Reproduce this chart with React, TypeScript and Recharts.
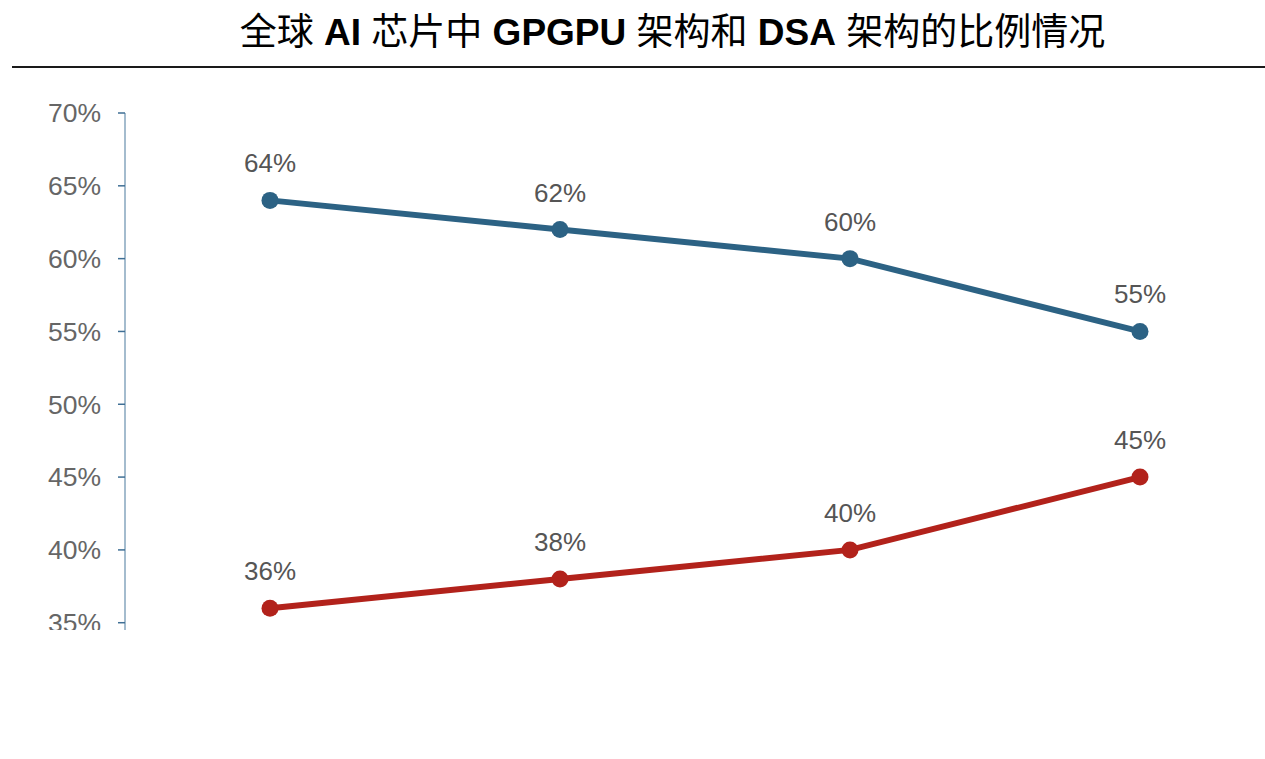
import { LineChart, Line, XAxis, YAxis, LabelList } from 'recharts';

const categories = ['1', '2', '3', '4'];
const gpgpuShare = [64, 62, 60, 55];
const dsaShare = [36, 38, 40, 45];
const yTicks = [35, 40, 45, 50, 55, 60, 65, 70];

const chartData = categories.map((c, i) => ({
  name: c,
  gpgpu: gpgpuShare[i],
  dsa: dsaShare[i],
}));

const FONT = '"Liberation Sans", Arial, Helvetica, sans-serif';
const CJK = '"Liberation Sans", "Noto Sans CJK SC", sans-serif';

export default function App() {
  return (
    <div style={{ position: 'absolute', left: 0, top: 0, width: 1265, height: 759, background: '#fff' }}>
      {/* title: Chinese regular, latin bold */}
      <div
        style={{
          position: 'absolute',
          left: 0,
          top: 10,
          width: 1345,
          textAlign: 'center',
          fontFamily: CJK,
          fontSize: 37,
          lineHeight: '46px',
          color: '#000',
          whiteSpace: 'nowrap',
        }}
      >
        全球 <b>AI</b> 芯片中 <b>GPGPU</b> 架构和 <b>DSA</b> 架构的比例情况
      </div>
      <div style={{ position: 'absolute', left: 12, top: 66, width: 1253, height: 2, background: '#1a1a1a' }} />

      <div style={{ position: 'absolute', left: 0, top: 0, width: 1265, height: 630, overflow: 'hidden' }}>
        <LineChart width={1265} height={700} data={chartData} margin={{ top: 113, right: 0, left: 0, bottom: 70 }}>
          <XAxis dataKey="name" hide padding={{ left: 145, right: 125 }} />
          <YAxis
            domain={[34.5, 70]}
            ticks={yTicks}
            width={125}
            tickSize={7}
            tickMargin={17}
            tickFormatter={(v: number) => `${v}%`}
            tick={{ fontSize: 26.5, fill: '#666666', fontFamily: FONT }}
            axisLine={{ stroke: '#86a6be', strokeWidth: 1.5 }}
            tickLine={{ stroke: '#3f6f95', strokeWidth: 1.5 }}
          />
          <Line
            type="linear"
            dataKey="gpgpu"
            stroke="#2c6284"
            strokeWidth={6}
            dot={{ r: 8.5, fill: '#2c6284', stroke: 'none' }}
            isAnimationActive={false}
          >
            <LabelList
              dataKey="gpgpu"
              position="top"
              offset={28}
              formatter={(v: number) => `${v}%`}
              style={{ fontSize: 26, fill: '#555555', fontFamily: FONT }}
            />
          </Line>
          <Line
            type="linear"
            dataKey="dsa"
            stroke="#b2221b"
            strokeWidth={6}
            dot={{ r: 8.5, fill: '#b2221b', stroke: 'none' }}
            isAnimationActive={false}
          >
            <LabelList
              dataKey="dsa"
              position="top"
              offset={28}
              formatter={(v: number) => `${v}%`}
              style={{ fontSize: 26, fill: '#555555', fontFamily: FONT }}
            />
          </Line>
        </LineChart>
      </div>
    </div>
  );
}
